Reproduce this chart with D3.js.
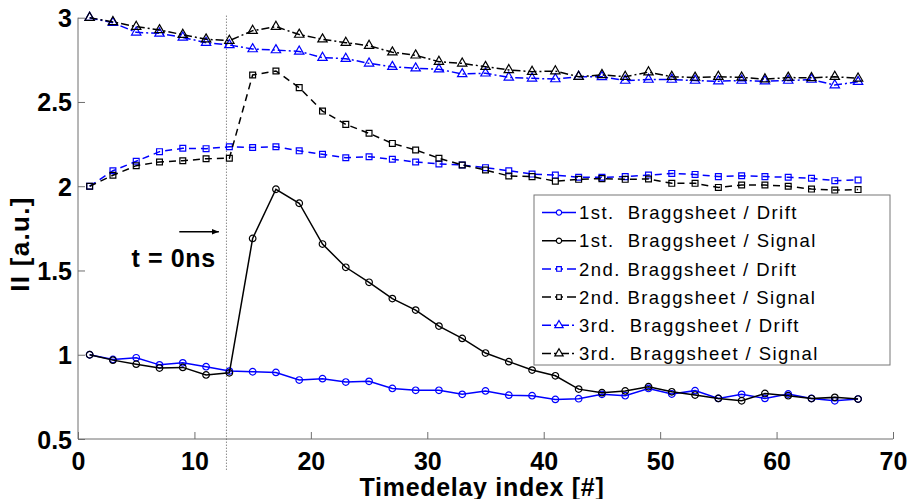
<!DOCTYPE html>
<html>
<head>
<meta charset="utf-8">
<script src="https://cdn.jsdelivr.net/npm/d3@7"></script>
<style>
  body { margin: 0; background: white; }
  #chart { width: 907px; height: 499px; }
  text { font-family: "Liberation Sans", Arial, sans-serif; }
</style>
</head>
<body>
<div id="chart"></div>
<script>
// timedelay index (x)
const timedelay = [1,3,5,7,9,11,13,15,17,19,21,23,25,27,29,31,33,35,37,39,41,43,45,47,49,51,53,55,57,59,61,63,65,67]

const drift1 = [1.00,0.972,0.982,0.94,0.952,0.929,0.903,0.899,0.895,0.85,0.858,0.838,0.842,0.80,0.789,0.789,0.765,0.785,0.76,0.757,0.735,0.739,0.765,0.757,0.80,0.767,0.787,0.741,0.765,0.741,0.767,0.741,0.727,0.737]
const signal1 = [1.00,0.968,0.944,0.921,0.925,0.88,0.893,1.69,1.982,1.899,1.657,1.519,1.43,1.333,1.265,1.17,1.097,1.01,0.959,0.909,0.875,0.796,0.775,0.785,0.81,0.78,0.761,0.741,0.727,0.77,0.757,0.74,0.747,0.737]
const drift2 = [2.0,2.092,2.148,2.205,2.225,2.223,2.234,2.23,2.234,2.21,2.19,2.169,2.175,2.16,2.144,2.132,2.126,2.11,2.092,2.072,2.066,2.053,2.053,2.057,2.066,2.076,2.07,2.057,2.062,2.057,2.053,2.047,2.033,2.037]
const signal2 = [2.0,2.065,2.122,2.144,2.151,2.163,2.166,2.66,2.684,2.585,2.446,2.367,2.314,2.254,2.215,2.166,2.126,2.096,2.061,2.057,2.03,2.041,2.045,2.041,2.043,2.017,2.017,1.993,2.007,2.007,2.0,1.983,1.977,1.98]
const drift3 = [3.0,2.97,2.913,2.907,2.883,2.852,2.838,2.814,2.808,2.80,2.763,2.757,2.729,2.709,2.70,2.694,2.666,2.67,2.646,2.64,2.636,2.65,2.649,2.627,2.633,2.633,2.627,2.623,2.627,2.623,2.627,2.633,2.60,2.62]
const signal3 = [3.0,2.975,2.947,2.927,2.899,2.872,2.864,2.923,2.947,2.90,2.872,2.852,2.834,2.795,2.777,2.739,2.729,2.709,2.69,2.68,2.683,2.65,2.661,2.65,2.677,2.65,2.645,2.65,2.646,2.635,2.645,2.643,2.65,2.64]

const seriesNames = ["1st.  Braggsheet / Drift", "1st.  Braggsheet / Signal", "2nd. Braggsheet / Drift",
                     "2nd. Braggsheet / Signal", "3rd.  Braggsheet / Drift", "3rd.  Braggsheet / Signal"]
const seriesValues = [drift1, signal1, drift2, signal2, drift3, signal3]

const xTicks = [0,10,20,30,40,50,60,70]
const yTicks = [0.5,1,1.5,2,2.5,3]
const t0 = 12.75   // t = 0ns marker

class BraggVis{
    constructor(parentElement){
        this.parentElement = parentElement
        this.initVis()
    }

    initVis(){
        let vis = this
        vis.margin = {top: 17.7, right: 14, bottom: 60, left: 78}
        vis.width = 907 - vis.margin.left - vis.margin.right
        vis.height = 499 - vis.margin.top - vis.margin.bottom

        vis.svg = d3.select("#" + vis.parentElement).append("svg")
            .attr("width", 907)
            .attr("height", 499)
            .append("g")
            .attr("transform", `translate(${vis.margin.left},${vis.margin.top})`)

        vis.x = d3.scaleLinear().domain([0, 70]).range([0, vis.width])
        vis.y = d3.scaleLinear().domain([0.5, 3]).range([vis.height, 0])

        // style per series: colour, dash, marker
        vis.styles = [
            {color: "#0000ff", dash: null, symbol: d3.symbolCircle},
            {color: "#000000", dash: null, symbol: d3.symbolCircle},
            {color: "#0000ff", dash: "7,5", symbol: d3.symbolSquare},
            {color: "#000000", dash: "7,5", symbol: d3.symbolSquare},
            {color: "#0000ff", dash: "8,3,2,3", symbol: d3.symbolTriangle},
            {color: "#000000", dash: "8,3,2,3", symbol: d3.symbolTriangle}
        ]

        vis.wrangleData()
    }

    wrangleData(){
        let vis = this
        vis.series = seriesNames.map((name, i) => ({
            name: name,
            style: vis.styles[i],
            values: timedelay.map((t, j) => ({x: t, y: seriesValues[i][j]}))
        }))
        vis.updateVis()
    }

    updateVis(){
        let vis = this
        const axisColor = "#6e6e6e"

        // axes (box off, ticks inside)
        let xAxis = vis.svg.append("g")
            .attr("transform", `translate(0,${vis.height})`)
            .call(d3.axisBottom(vis.x).tickValues(xTicks).tickSize(-7).tickPadding(13).tickFormat(d3.format("d")))
        let yAxis = vis.svg.append("g")
            .call(d3.axisLeft(vis.y).tickValues(yTicks).tickSize(-7).tickPadding(6).tickFormat(d => d))
        ;[xAxis, yAxis].forEach(a => {
            a.select(".domain").attr("stroke", axisColor).attr("d", null)
            a.selectAll(".tick line").attr("stroke", axisColor)
            a.selectAll(".tick text")
                .attr("fill", "black")
                .style("font-size", "25px")
                .style("font-weight", "bold")
        })
        xAxis.select(".domain").attr("d", `M0,0H${vis.width}`)
        yAxis.select(".domain").attr("d", `M0,0V${vis.height}`)
        xAxis.selectAll(".tick text").attr("dy", "0.72em")
        yAxis.selectAll(".tick text").attr("dy", "0.36em")

        // t = 0 dotted line
        vis.svg.append("line")
            .attr("x1", vis.x(t0)).attr("x2", vis.x(t0))
            .attr("y1", -2).attr("y2", vis.height + 31)
            .attr("stroke", "#555")
            .attr("stroke-width", 1)
            .attr("stroke-dasharray", "1,2")

        // arrow + label
        vis.svg.append("defs").append("marker")
            .attr("id", "arrowhead")
            .attr("viewBox", "0 0 10 10")
            .attr("refX", 10).attr("refY", 5)
            .attr("markerWidth", 7).attr("markerHeight", 7)
            .attr("markerUnits", "userSpaceOnUse")
            .attr("orient", "auto")
            .append("path").attr("d", "M0,1L10,5L0,9Z").attr("fill", "black")
        vis.svg.append("line")
            .attr("x1", vis.x(8.7)).attr("x2", vis.x(12.1))
            .attr("y1", vis.y(1.73)).attr("y2", vis.y(1.73))
            .attr("stroke", "black").attr("stroke-width", 1.5)
            .attr("marker-end", "url(#arrowhead)")
        vis.svg.append("text")
            .attr("x", vis.x(4.6)).attr("y", vis.y(1.52))
            .style("font-size", "25px").style("font-weight", "bold")
            .style("letter-spacing", "0.6px").style("white-space", "pre")
            .text("t = 0ns")

        // lines + markers
        let line = d3.line().x(d => vis.x(d.x)).y(d => vis.y(d.y))
        let groups = vis.svg.selectAll(".series")
            .data(vis.series)
            .enter().append("g").attr("class", "series")

        groups.append("path")
            .attr("d", d => line(d.values))
            .attr("fill", "none")
            .attr("stroke", d => d.style.color)
            .attr("stroke-width", 1.5)
            .attr("stroke-dasharray", d => d.style.dash)

        groups.each(function(s){
            d3.select(this).selectAll("path.marker")
                .data(s.values)
                .enter().append("path")
                .attr("class", "marker")
                .attr("transform", d => `translate(${vis.x(d.x)},${vis.y(d.y)})`)
                .attr("d", d3.symbol().type(s.style.symbol).size(s.style.symbol === d3.symbolTriangle ? 38 : 34))
                .attr("fill", "none")
                .attr("stroke", s.style.color)
                .attr("stroke-width", 1.2)
        })

        // axis labels
        vis.svg.append("text")
            .attr("x", vis.x(34.7)).attr("y", 478.5)
            .attr("text-anchor", "middle")
            .style("font-size", "25px").style("font-weight", "bold")
            .style("letter-spacing", "0.7px")
            .text("Timedelay index [#]")
        vis.svg.append("text")
            .attr("transform", `translate(${29 - vis.margin.left},${244 - vis.margin.top}) rotate(-90)`)
            .attr("text-anchor", "middle")
            .style("font-size", "26px").style("font-weight", "bold")
            .style("letter-spacing", "1.3px")
            .text("II [a.u.]")

        // legend
        let lg = vis.svg.append("g").attr("transform", `translate(${534 - vis.margin.left},${195 - vis.margin.top})`)
        lg.append("rect")
            .attr("width", 356).attr("height", 170)
            .attr("fill", "white").attr("stroke", "#777").attr("stroke-width", 1)
        let rows = lg.selectAll(".row").data(vis.series).enter().append("g")
            .attr("transform", (d, i) => `translate(0,${17.5 + i * 28.2})`)
        rows.append("line")
            .attr("x1", 8).attr("x2", 42)
            .attr("stroke", d => d.style.color).attr("stroke-width", 1.5)
            .attr("stroke-dasharray", d => d.style.dash ? (d.style.dash === "7,5" ? "9,4,8,4,9" : "9,3,2,3,10,3,2,3") : null)
        rows.append("path")
            .attr("transform", "translate(25,0)")
            .attr("d", d => d3.symbol().type(d.style.symbol).size(d.style.symbol === d3.symbolTriangle ? 30 : 22)())
            .attr("fill", "white")
            .attr("stroke", d => d.style.color).attr("stroke-width", 1.2)
        rows.append("text")
            .attr("x", 45).attr("dy", "0.36em")
            .style("font-size", "18.5px").style("letter-spacing", "1.45px")
            .style("white-space", "pre")
            .text(d => d.name)
    }
}

new BraggVis("chart")
</script>
</body>
</html>
